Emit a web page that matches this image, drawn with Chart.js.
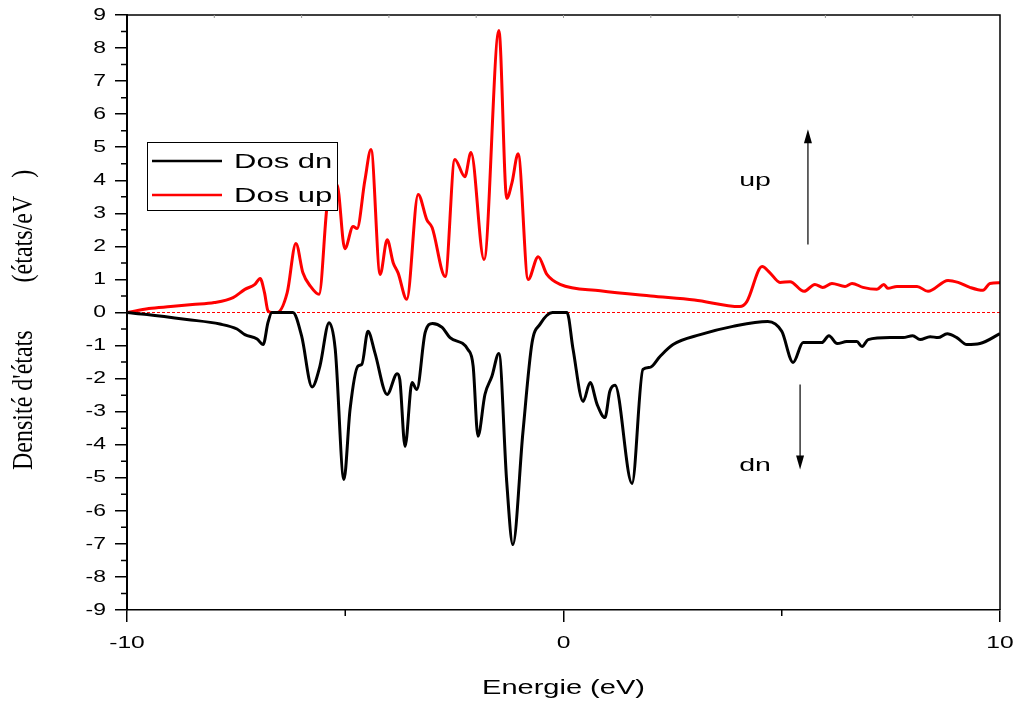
<!DOCTYPE html>
<html>
<head>
<meta charset="utf-8">
<script src="https://cdn.jsdelivr.net/npm/chart.js@4.4.0/dist/chart.umd.min.js"></script>
<style>
	html, body { margin: 0; padding: 0; background: #fff; }
	#wrap { width: 1019px; height: 702px; }
</style>
</head>
<body>
<div id="wrap"><canvas id="dosChart"></canvas></div>
<script>
// spin up (red)
const upEnergy = [-10, -9.5, -9.0, -8.5, -8.0, -7.57, -7.3, -7.07, -6.95, -6.85, -6.77, -6.68, -6.56, -6.33, -6.13, -5.97, -5.8, -5.6, -5.4, -5.19, -5.01, -4.82, -4.73, -4.55, -4.41, -4.2, -4.04, -3.9, -3.79, -3.59, -3.33, -3.13, -3.01, -2.71, -2.49, -2.26, -2.12, -1.82, -1.48, -1.3, -1.18, -1.04, -0.81, -0.58, -0.38, -0.08, 0.84, 2.0, 3.0, 4.04, 4.2, 4.55, 4.73, 4.96, 5.19, 5.51, 5.76, 5.94, 6.15, 6.45, 6.61, 6.86, 7.18, 7.34, 7.43, 7.64, 8.1, 8.35, 8.81, 9.04, 9.31, 9.61, 9.77, 10];
const upDos = [0, 0.12, 0.18, 0.24, 0.3, 0.45, 0.7, 0.85, 1.03, 0.6, 0.05, 0, 0, 0.6, 2.09, 1.2, 0.8, 0.55, 3.4, 3.87, 1.93, 2.6, 2.54, 4.0, 4.93, 1.15, 2.2, 1.5, 1.2, 0.4, 3.57, 2.8, 2.57, 1.09, 4.63, 4.11, 4.84, 1.6, 8.53, 3.45, 3.93, 4.8, 1.0, 1.69, 1.15, 0.85, 0.66, 0.5, 0.38, 0.18, 0.33, 1.39, 1.2, 0.91, 0.93, 0.64, 0.85, 0.76, 0.88, 0.79, 0.88, 0.76, 0.7, 0.85, 0.73, 0.79, 0.79, 0.64, 0.97, 0.91, 0.76, 0.67, 0.88, 0.9];

// spin down (black)
const dnEnergy = [-10, -9.54, -8.63, -7.87, -7.48, -7.3, -7.02, -6.88, -6.77, -6.68, -6.2, -6.0, -5.76, -5.58, -5.37, -5.23, -5.03, -4.89, -4.71, -4.62, -4.48, -4.32, -4.04, -3.81, -3.75, -3.63, -3.47, -3.36, -3.17, -3.0, -2.78, -2.6, -2.19, -2.07, -1.96, -1.8, -1.64, -1.48, -1.3, -1.16, -0.93, -0.72, -0.54, -0.25, 0.08, 0.22, 0.45, 0.61, 0.77, 0.95, 1.06, 1.18, 1.57, 1.82, 1.98, 2.21, 2.51, 3.13, 3.88, 4.68, 5.0, 5.26, 5.49, 5.92, 6.08, 6.27, 6.49, 6.72, 6.84, 6.98, 7.48, 7.78, 8.0, 8.17, 8.4, 8.58, 8.79, 9.01, 9.24, 9.54, 10];
const dnDos = [0, -0.06, -0.21, -0.35, -0.5, -0.67, -0.8, -0.97, -0.3, 0, 0, -0.71, -2.25, -1.62, -0.31, -1.1, -5.05, -2.93, -1.62, -1.57, -0.57, -1.22, -2.48, -1.85, -2.03, -4.05, -2.12, -2.33, -0.61, -0.33, -0.45, -0.76, -1.12, -1.62, -3.74, -2.48, -1.93, -1.24, -5.14, -7.02, -3.63, -0.91, -0.36, 0, 0, -1.12, -2.69, -2.12, -2.78, -3.18, -2.39, -2.2, -5.17, -1.72, -1.66, -1.33, -0.97, -0.67, -0.42, -0.27, -0.57, -1.51, -0.91, -0.91, -0.7, -0.94, -0.88, -0.88, -1.03, -0.82, -0.76, -0.76, -0.7, -0.82, -0.73, -0.76, -0.64, -0.76, -0.97, -0.94, -0.64];

const xTicks = [-10, 0, 10];
const yTicks = [-9, -8, -7, -6, -5, -4, -3, -2, -1, 0, 1, 2, 3, 4, 5, 6, 7, 8, 9];
const seriesNames = ["Dos dn", "Dos up"];
const xTitle = "Energie (eV)";
const yTitle = "Densité d'états        (états/eV   )";

const toPoints = (xs, ys) => xs.map((x, i) => ({ x: x, y: ys[i] }));

// the original export is stretched sideways, so text is drawn widened
const sans = "Liberation Sans, Arial";
const stretchX = 1.45;

const drawText = (ctx, text, x, y, font, align, sx) => {
	ctx.save();
	ctx.translate(x, y);
	ctx.scale(sx, 1);
	ctx.font = font;
	ctx.textAlign = align;
	ctx.textBaseline = "middle";
	ctx.fillText(text, 0, 0);
	ctx.restore();
};

// box, minor ticks, zero line, texts, legend and up/dn arrows
const decorations = {
	id: "decorations",
	beforeDatasetsDraw(chart) {
		const { ctx, chartArea: a, scales } = chart;
		const y0 = scales.y.getPixelForValue(0);
		ctx.save();
		ctx.strokeStyle = "#ff0000";
		ctx.lineWidth = 1;
		ctx.setLineDash([3, 2]);
		ctx.beginPath();
		ctx.moveTo(a.left, y0);
		ctx.lineTo(a.right, y0);
		ctx.stroke();
		ctx.restore();
	},
	afterDraw(chart) {
		const { ctx, chartArea: a, scales } = chart;
		const xs = scales.x;
		const ys = scales.y;
		ctx.save();
		ctx.fillStyle = "#000";

		// top and right frame
		ctx.strokeStyle = "#000";
		ctx.lineWidth = 1.5;
		ctx.beginPath();
		ctx.moveTo(a.left, a.top);
		ctx.lineTo(a.right, a.top);
		ctx.lineTo(a.right, a.bottom);
		ctx.stroke();

		// minor ticks
		ctx.beginPath();
		for (let v = -8.5; v < 9; v += 1) {
			const py = ys.getPixelForValue(v);
			ctx.moveTo(a.left - 6, py);
			ctx.lineTo(a.left, py);
		}
		[-5, 5].forEach((v) => {
			const px = xs.getPixelForValue(v);
			ctx.moveTo(px, a.bottom);
			ctx.lineTo(px, a.bottom + 6);
		});
		ctx.stroke();

		ctx.strokeStyle = "#999";
		ctx.lineWidth = 1;
		ctx.beginPath();
		for (let v = -8; v < 10; v += 2) {
			const px = xs.getPixelForValue(v);
			ctx.moveTo(px, a.top);
			ctx.lineTo(px, a.top + 3);
		}
		ctx.stroke();

		// tick labels
		yTicks.forEach((v) => {
			drawText(ctx, String(v), a.left - 21, ys.getPixelForValue(v), "17px " + sans, "right", 1.35);
		});
		xTicks.forEach((v) => {
			drawText(ctx, String(v), xs.getPixelForValue(v), a.bottom + 33, "17px " + sans, "center", stretchX);
		});

		// axis titles
		drawText(ctx, xTitle, xs.getPixelForValue(0), a.bottom + 78, "20px " + sans, "center", stretchX);

		ctx.save();
		ctx.translate(24, 470);
		ctx.rotate(-Math.PI / 2);
		ctx.scale(1, 1.2);
		ctx.font = "24px Liberation Serif, Times New Roman";
		ctx.textAlign = "left";
		ctx.textBaseline = "middle";
		ctx.fillText(yTitle, 0, 0);
		ctx.restore();

		// legend
		const lx = a.left + 20;
		const ly = a.top + 127;
		ctx.fillStyle = "#fff";
		ctx.fillRect(lx, ly, 190, 68);
		ctx.strokeStyle = "#000";
		ctx.lineWidth = 1;
		ctx.strokeRect(lx + 0.5, ly + 0.5, 190, 68);
		const legendColors = ["#000000", "#ff0000"];
		seriesNames.forEach((name, i) => {
			const yy = ly + 19 + i * 34;
			ctx.strokeStyle = legendColors[i];
			ctx.lineWidth = 2.5;
			ctx.beginPath();
			ctx.moveTo(lx + 5, yy);
			ctx.lineTo(lx + 75, yy);
			ctx.stroke();
			ctx.fillStyle = "#000";
			drawText(ctx, name, lx + 87, yy + 1, "20px " + sans, "left", 1.55);
		});

		// up / dn labels and arrows
		ctx.fillStyle = "#000";
		drawText(ctx, "up", xs.getPixelForValue(4.39), ys.getPixelForValue(4.0), "19px " + sans, "center", 1.5);
		drawText(ctx, "dn", xs.getPixelForValue(4.39), ys.getPixelForValue(-4.63), "19px " + sans, "center", 1.5);

		const arrow = (xv, fromV, toV) => {
			const px = xs.getPixelForValue(xv);
			const p1 = ys.getPixelForValue(fromV);
			const p2 = ys.getPixelForValue(toV);
			const dir = p2 < p1 ? -1 : 1;
			ctx.strokeStyle = "#000";
			ctx.lineWidth = 1.2;
			ctx.beginPath();
			ctx.moveTo(px, p1);
			ctx.lineTo(px, p2 - dir * 10);
			ctx.stroke();
			ctx.beginPath();
			ctx.moveTo(px, p2);
			ctx.lineTo(px - 4, p2 - dir * 14);
			ctx.lineTo(px + 4, p2 - dir * 14);
			ctx.closePath();
			ctx.fill();
		};
		arrow(5.6, 2.06, 5.54);
		arrow(5.42, -2.18, -4.75);

		ctx.restore();
	}
};

new Chart(document.getElementById("dosChart"), {
	type: "line",
	data: {
		datasets: [
			{
				label: seriesNames[0],
				data: toPoints(dnEnergy, dnDos),
				borderColor: "#000000",
				borderWidth: 3,
				pointRadius: 0,
				cubicInterpolationMode: "monotone",
				fill: false
			},
			{
				label: seriesNames[1],
				data: toPoints(upEnergy, upDos),
				borderColor: "#ff0000",
				borderWidth: 3,
				pointRadius: 0,
				cubicInterpolationMode: "monotone",
				fill: false
			}
		]
	},
	options: {
		responsive: true,
		maintainAspectRatio: false,
		animation: false,
		layout: {
			padding: { top: 15, right: 19, left: 0, bottom: 0 }
		},
		plugins: {
			legend: { display: false },
			tooltip: { enabled: false }
		},
		scales: {
			x: {
				type: "linear",
				min: -10,
				max: 10,
				afterBuildTicks: (scale) => {
					scale.ticks = xTicks.map((v) => ({ value: v }));
				},
				ticks: { display: false },
				grid: {
					drawOnChartArea: false,
					tickLength: 12,
					color: "#000",
					lineWidth: 1.5
				},
				border: { color: "#000", width: 1.5 },
				afterFit: (scale) => {
					scale.height = 92;
				}
			},
			y: {
				min: -9,
				max: 9,
				afterBuildTicks: (scale) => {
					scale.ticks = yTicks.map((v) => ({ value: v }));
				},
				ticks: { display: false },
				grid: {
					drawOnChartArea: false,
					tickLength: 12,
					color: "#000",
					lineWidth: 1.5
				},
				border: { color: "#000", width: 2 },
				afterFit: (scale) => {
					scale.width = 127;
				}
			}
		}
	},
	plugins: [decorations]
});
</script>
</body>
</html>
